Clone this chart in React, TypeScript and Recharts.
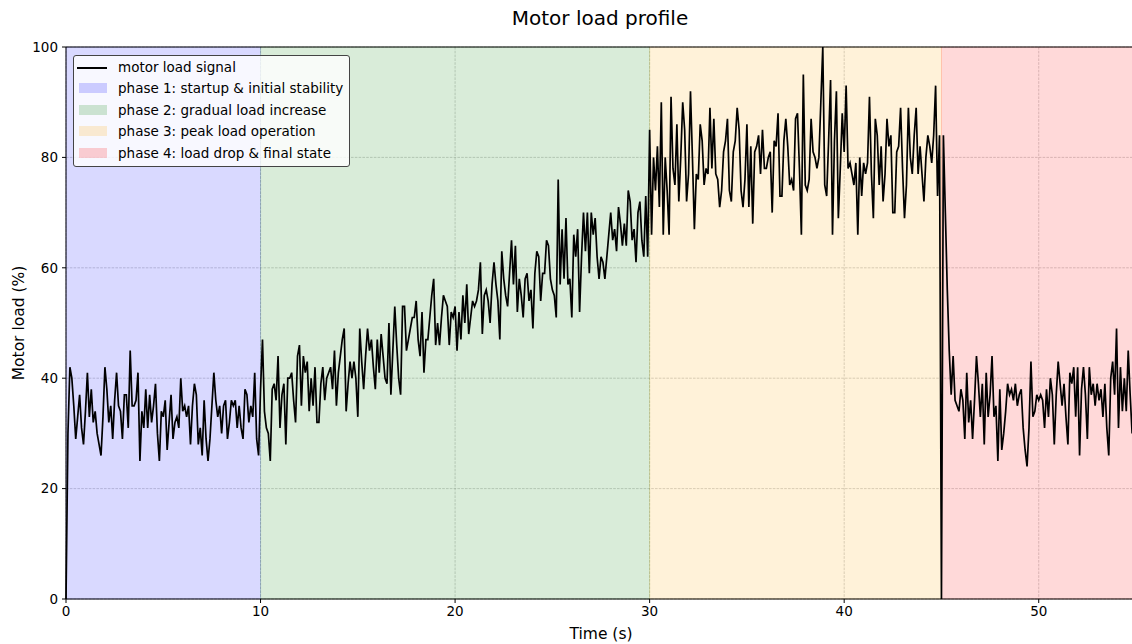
import { LineChart, Line, XAxis, YAxis, CartesianGrid, ReferenceArea, ReferenceLine } from 'recharts'

const phase1Load = [
  0, 30, 42, 40, 35, 29, 33, 37, 31, 28, 34, 41, 33, 38, 32, 34, 30, 28, 26, 33,
  42, 38, 32, 35, 29, 36, 41, 35, 34, 29, 37, 37, 31, 45, 35, 35, 36, 41, 25, 34,
  31, 38, 31, 37, 32, 35, 39, 30, 25, 34, 33, 36, 27, 32, 37, 29, 32, 33, 31, 40,
  34, 35, 33, 35, 28, 35, 39, 37, 28, 31, 26, 36, 29, 25, 29, 35, 41, 36, 33, 35,
  30, 35, 36, 29, 32, 36, 35, 36, 31, 35, 31, 29, 38, 37, 32, 35, 33, 41, 29, 26,
]

const phase2Load = [
  38, 47, 34, 31, 30, 25, 38, 39, 36, 44, 31, 37, 39, 28, 40, 40, 41, 36, 32, 44,
  46, 35, 44, 41, 43, 34, 40, 35, 42, 32, 32, 39, 42, 36, 40, 41, 42, 38, 45, 35,
  41, 44, 47, 49, 34, 39, 43, 40, 43, 40, 33, 49, 43, 38, 44, 49, 45, 47, 42, 38,
  47, 41, 48, 44, 40, 39, 50, 37, 45, 53, 46, 40, 37, 53, 53, 45, 47, 49, 51, 51,
  54, 47, 44, 52, 41, 47, 47, 51, 55, 58, 46, 50, 46, 51, 55, 54, 53, 46, 52, 51,
  53, 45, 52, 47, 55, 50, 57, 48, 51, 54, 53, 54, 56, 61, 48, 55, 56, 54, 50, 57,
  61, 57, 54, 47, 63, 58, 55, 53, 59, 65, 57, 64, 52, 58, 55, 51, 58, 59, 54, 56,
  49, 59, 63, 62, 54, 59, 59, 65, 64, 58, 56, 55, 51, 76, 57, 67, 58, 69, 57, 58,
  51, 66, 62, 67, 52, 62, 70, 63, 70, 59, 70, 66, 69, 62, 58, 62, 61, 58, 62, 66,
  70, 65, 67, 63, 71, 68, 64, 68, 64, 74, 72, 65, 67, 61, 70, 72, 65, 62, 73, 62,
]

const phase3Load = [
  85, 66, 80, 74, 82, 71, 90, 66, 80, 74, 66, 91, 78, 75, 86, 72, 80, 90, 85, 72,
  77, 92, 80, 67, 77, 76, 86, 83, 75, 78, 77, 89, 78, 87, 77, 76, 71, 74, 81, 83,
  87, 74, 72, 81, 83, 89, 85, 74, 71, 76, 86, 71, 82, 68, 81, 82, 84, 77, 85, 78,
  78, 80, 81, 70, 83, 82, 88, 73, 73, 83, 87, 82, 75, 76, 74, 87, 88, 78, 66, 95,
  75, 74, 76, 87, 81, 80, 78, 80, 90, 100, 75, 73, 83, 94, 66, 83, 92, 69, 78, 88,
  81, 93, 78, 79, 77, 75, 79, 66, 80, 73, 79, 77, 79, 91, 77, 69, 87, 84, 75, 82,
  72, 77, 87, 82, 84, 70, 70, 81, 82, 89, 78, 69, 75, 89, 80, 77, 84, 89, 77, 82,
  77, 72, 80, 84, 82, 79, 84, 93, 73, 84,
]

const phase4Load = [
  0, 84, 70, 56, 45, 37, 44, 36, 35, 34, 38, 36, 29, 41, 32, 36, 29, 36, 44, 39,
  33, 39, 28, 41, 33, 37, 44, 33, 35, 25, 38, 27, 30, 34, 39, 37, 38, 36, 39, 35,
  37, 38, 31, 27, 24, 31, 43, 33, 34, 37, 36, 37, 36, 31, 38, 33, 40, 37, 28, 37,
  43, 39, 35, 39, 33, 28, 41, 39, 42, 33, 42, 26, 38, 42, 37, 29, 42, 37, 39, 35,
  39, 36, 38, 33, 39, 31, 26, 40, 43, 37, 49, 31, 42, 34, 40, 34, 45, 37, 30, 36,
  37,
]

const timeStep = 0.1
const xTicks = [0, 10, 20, 30, 40, 50]
const yTicks = [0, 20, 40, 60, 80, 100]

const phases = [
  { label: 'phase 1: startup & initial stability', from: 0, to: 10, color: '#0000ff' },
  { label: 'phase 2: gradual load increase', from: 10, to: 30, color: '#008000' },
  { label: 'phase 3: peak load operation', from: 30, to: 45, color: '#ffa500' },
  { label: 'phase 4: load drop & final state', from: 45, to: 55, color: '#ff0000' },
]

const loadValues = [...phase1Load, ...phase2Load, ...phase3Load, ...phase4Load]
const chartData = loadValues.map((load, i) => ({ t: +(i * timeStep).toFixed(1), load }))

const font = '"DejaVu Sans", sans-serif'

function PlotLegend() {
  return (
    <div
      style={{
        position: 'absolute',
        left: 73,
        top: 55,
        width: 275,
        height: 110,
        background: 'rgba(255,255,255,0.8)',
        border: '1px solid #444',
        borderRadius: 3,
        fontFamily: font,
        fontSize: 13.5,
        color: '#000',
      }}
    >
      <div style={{ position: 'absolute', left: 3, top: 11, width: 30, height: 2, background: '#000' }} />
      <div style={{ position: 'absolute', left: 44, top: 3, lineHeight: '17px' }}>motor load signal</div>
      {phases.map((p, i) => (
        <div key={p.label}>
          <div
            style={{
              position: 'absolute',
              left: 5,
              top: 27 + i * 21.5,
              width: 28,
              height: 10,
              background: p.color,
              opacity: 0.18,
            }}
          />
          <div style={{ position: 'absolute', left: 44, top: 24 + i * 21.5, lineHeight: '17px', whiteSpace: 'nowrap' }}>
            {p.label}
          </div>
        </div>
      ))}
    </div>
  )
}

export default function App() {
  return (
    <div style={{ position: 'absolute', left: 0, top: 0, width: 1132, height: 644, overflow: 'hidden', background: '#fff' }}>
      <div
        style={{
          position: 'absolute',
          left: 0,
          top: 6,
          width: 1200,
          textAlign: 'center',
          fontFamily: font,
          fontSize: 20,
          color: '#000',
        }}
      >
        Motor load profile
      </div>
      <LineChart
        width={1140}
        height={644}
        data={chartData}
        margin={{ top: 47, right: 4, bottom: 0, left: 0 }}
        style={{ fontFamily: font }}
      >
        {phases.map(p => (
          <ReferenceArea
            key={p.label}
            x1={p.from}
            x2={p.to}
            y1={0}
            y2={100}
            fill={p.color}
            fillOpacity={0.15}
            stroke={p.color}
            strokeOpacity={0.12}
          />
        ))}
        <CartesianGrid stroke="#8c8c8c" strokeOpacity={0.55} strokeWidth={0.7} strokeDasharray="2.6 1.2" />
        <XAxis
          type="number"
          dataKey="t"
          domain={[0, 55]}
          ticks={xTicks}
          height={45}
          tickSize={4}
          tickMargin={3}
          stroke="#000"
          tick={{ fill: '#000', fontSize: 13.5 }}
          label={{ value: 'Time (s)', position: 'insideBottom', offset: 5, fill: '#000', fontSize: 15.5 }}
        />
        <YAxis
          type="number"
          domain={[0, 100]}
          ticks={yTicks}
          width={66}
          tickSize={4}
          tickMargin={4}
          stroke="#000"
          tick={{ fill: '#000', fontSize: 13.5 }}
          label={{
            value: 'Motor load (%)',
            angle: -90,
            position: 'insideLeft',
            offset: 18,
            fill: '#000',
            fontSize: 15.5,
            style: { textAnchor: 'middle' },
          }}
        />
        <ReferenceLine y={100} stroke="#000" />
        <Line
          type="linear"
          dataKey="load"
          stroke="#000"
          strokeWidth={1.7}
          dot={false}
          isAnimationActive={false}
        />
      </LineChart>
      <PlotLegend />
    </div>
  )
}
